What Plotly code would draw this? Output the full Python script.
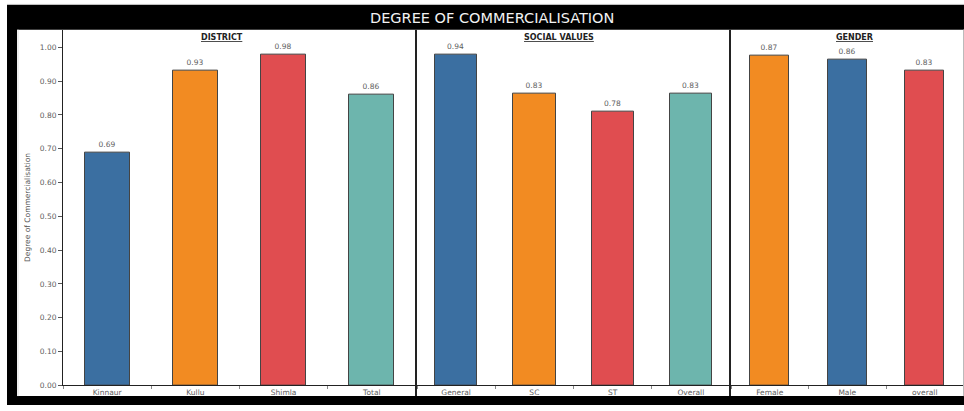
import plotly.graph_objects as go

# ---- data ----
district_cats = ["Kinnaur", "Kullu", "Shimla", "Total"]
district_vals = [0.69, 0.93, 0.98, 0.86]
social_cats = ["General", "SC", "ST", "Overall"]
social_vals = [0.94, 0.83, 0.78, 0.83]
gender_cats = ["Female", "Male", "overall"]
gender_vals = [0.87, 0.86, 0.83]
y_ticks = [0.0, 0.1, 0.2, 0.3, 0.4, 0.5, 0.6, 0.7, 0.8, 0.9, 1.0]
panel_titles = ["DISTRICT", "SOCIAL VALUES", "GENDER"]
chart_title = "DEGREE OF COMMERCIALISATION"
y_title = "Degree of Commercialisation"

BLUE, ORANGE, RED, TEAL = "#3b6fa1", "#f28b22", "#e04d50", "#6db5ad"
district_cols = [BLUE, ORANGE, RED, TEAL]
social_cols = [BLUE, ORANGE, RED, TEAL]
gender_cols = [ORANGE, BLUE, RED]

W, H = 964, 411
def px(x):
    return x / W
def py(y):
    return 1 - y / H

FONT = "DejaVu Sans"
GRAY = "#5e5e5e"

fig = go.Figure()
panels = [
    (district_cats, district_vals, district_cols, "x", "y", 0.51),
    (social_cats, social_vals, social_cols, "x2", "y2", 0.54),
    (gender_cats, gender_vals, gender_cols, "x3", "y3", 0.50),
]
for cats, vals, cols, xa, ya, bw in panels:
    fig.add_trace(go.Bar(
        x=cats, y=vals, xaxis=xa, yaxis=ya, width=bw,
        marker=dict(color=cols, line=dict(color="#444444", width=1)),
        text=[f"{v:.2f}" for v in vals], textposition="outside",
        textfont=dict(size=7.5, color=GRAY, family=FONT),
        cliponaxis=False, showlegend=False,
    ))

top_px, zero_px, one_px = 30, 390, 48
base_top = (zero_px - top_px) / (zero_px - one_px)
ydom = [py(zero_px), py(top_px)]
scales = [1.0, 1.04, 1.122]
xdoms = [[px(63), px(416)], [px(417), px(730)], [px(731), px(963.5)]]

xaxis_common = dict(showline=True, linecolor="#222222", linewidth=1,
                    ticks="outside", tickson="boundaries", ticklen=3,
                    tickcolor="#888888", showgrid=False,
                    tickfont=dict(size=7.5, color=GRAY, family=FONT), fixedrange=True)

layout = dict(
    width=W, height=H, margin=dict(l=0, r=0, t=0, b=0),
    paper_bgcolor="white", plot_bgcolor="white", bargap=0.0,
    font=dict(family=FONT),
)
for i in range(3):
    sfx = "" if i == 0 else str(i + 1)
    layout["xaxis" + sfx] = dict(domain=xdoms[i], anchor="y" + sfx, **xaxis_common)
    yax = dict(domain=ydom, range=[0, base_top / scales[i]], anchor="x" + sfx,
               showgrid=False, zeroline=False, fixedrange=True)
    if i == 0:
        yax.update(showline=True, linecolor="#222222", linewidth=1,
                   ticks="outside", ticklen=4, tickcolor="#555555",
                   tickvals=y_ticks, tickformat=".2f",
                   tickfont=dict(size=7.5, color=GRAY, family=FONT),
                   title=dict(text=y_title, font=dict(size=7.5, color="#555555", family=FONT),
                              standoff=8))
    else:
        yax.update(visible=False)
    layout["yaxis" + sfx] = yax
fig.update_layout(**layout)

shapes = []
# black frame
shapes.append(dict(type="rect", xref="paper", yref="paper", x0=px(7), x1=px(964),
                   y0=py(30), y1=py(5), fillcolor="black", line=dict(width=0), layer="above"))
shapes.append(dict(type="rect", xref="paper", yref="paper", x0=px(7), x1=px(17),
                   y0=py(410), y1=py(5), fillcolor="black", line=dict(width=0), layer="above"))
shapes.append(dict(type="rect", xref="paper", yref="paper", x0=px(7), x1=px(964),
                   y0=py(410), y1=py(401), fillcolor="black", line=dict(width=0), layer="above"))
# thin gray edges
shapes.append(dict(type="line", xref="paper", yref="paper", x0=px(7), x1=px(964),
                   y0=py(4.5), y1=py(4.5), line=dict(color="#bbbbbb", width=1)))
shapes.append(dict(type="line", xref="paper", yref="paper", x0=px(963.5), x1=px(963.5),
                   y0=py(401), y1=py(30), line=dict(color="#bbbbbb", width=1)))
shapes.append(dict(type="line", xref="paper", yref="paper", x0=px(18), x1=px(18),
                   y0=py(401), y1=py(30), line=dict(color="#dddddd", width=1)))
# panel dividers
for xd in [416, 730]:
    shapes.append(dict(type="line", xref="paper", yref="paper", x0=px(xd), x1=px(xd),
                       y0=py(401), y1=py(30), line=dict(color="#222222", width=2)))
fig.update_layout(shapes=shapes)

annotations = [dict(text=chart_title, xref="paper", yref="paper", x=px(492), y=py(18),
                    showarrow=False, font=dict(size=14.5, color="#f2f2f2", family=FONT),
                    xanchor="center", yanchor="middle")]
for t, xc in zip(panel_titles, [222, 559, 854]):
    annotations.append(dict(text=f"<b><u>{t}</u></b>", xref="paper", yref="paper",
                            x=px(xc), y=py(38), showarrow=False,
                            font=dict(size=8, color="#222222", family=FONT),
                            xanchor="center", yanchor="middle"))
fig.update_layout(annotations=annotations)

fig.write_html("out.html", config={"displayModeBar": False},
               post_script="document.body.style.margin='0';document.body.style.padding='0';")
